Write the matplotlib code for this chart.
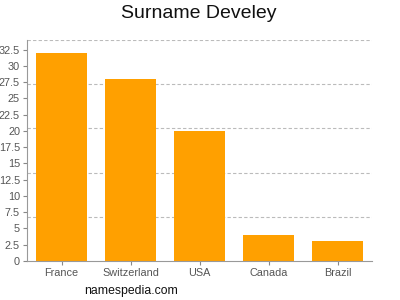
import matplotlib
matplotlib.use("Agg")
import matplotlib.pyplot as plt
import numpy as np

countries = ['France', 'Switzerland', 'USA', 'Canada', 'Brazil']
counts = [32, 28, 20, 4, 3]
yticks = [0, 2.5, 5, 7.5, 10, 12.5, 15, 17.5, 20, 22.5, 25, 27.5, 30, 32.5]
grid_levels = [6.8, 13.6, 20.4, 27.2, 34]

plt.rcParams['font.family'] = ['Liberation Sans', 'DejaVu Sans']

fig = plt.figure(figsize=(4, 3), dpi=100)
ax = fig.add_axes([0.0675, 0.13, 0.8625, 0.7367])

x = np.arange(len(countries))
for g in grid_levels:
    ax.axhline(g, color='#bbbbbb', lw=0.8, ls=(0, (3, 2)), zorder=0)
ax.bar(x, counts, width=0.725, color='#ffa000', zorder=2)

ax.set_xlim(-0.5, len(countries) - 0.5)
ax.set_ylim(0, 34)
ax.set_yticks(yticks)
ax.set_yticklabels([f'{t:g}' for t in yticks])
ax.set_xticks(x)
ax.set_xticklabels(countries)

ax.tick_params(axis='both', labelsize=7.8, colors='#888888', labelcolor='#555555',
               length=3, width=0.8, pad=2)
for s in ['top', 'right']:
    ax.spines[s].set_visible(False)
for s in ['left', 'bottom']:
    ax.spines[s].set_color('#999999')
    ax.spines[s].set_linewidth(0.8)

fig.text(0.4975, 0.955, 'Surname Develey', ha='center', va='center', fontsize=14, color='#111111')
fig.text(0.327, 0.03, 'namespedia.com', ha='center', va='center', fontsize=8.8, color='#111111')

fig.savefig('out.png', dpi=100)
